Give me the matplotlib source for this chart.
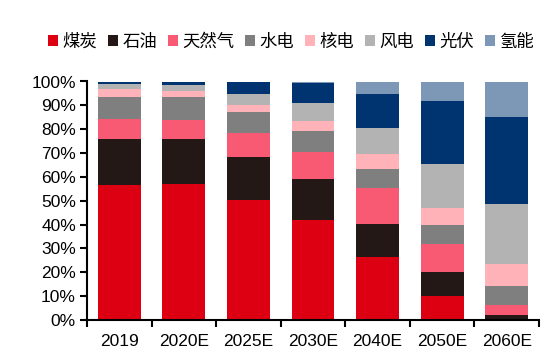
import matplotlib
matplotlib.use("Agg")

import matplotlib.pyplot as plt  # noqa: E402
import numpy as np  # noqa: E402

plt.rcParams["font.family"] = ["Liberation Sans", "DejaVu Sans"]

years = ["2019", "2020E", "2025E", "2030E", "2040E", "2050E", "2060E"]
sources = ["煤炭", "石油", "天然气", "水电", "核电", "风电", "光伏", "氢能"]

# share of primary energy, %
coal = [56.6, 57.1, 50.3, 42.0, 26.3, 10.1, 0.5]
oil = [19.3, 18.8, 18.0, 17.0, 14.0, 9.9, 1.5]
gas = [8.5, 8.0, 10.0, 11.5, 14.9, 12.0, 4.3]
hydro = [9.0, 9.5, 8.8, 8.7, 8.0, 8.0, 8.0]
nuclear = [3.3, 2.8, 3.0, 4.3, 6.5, 7.1, 9.2]
wind = [2.1, 2.4, 4.7, 7.4, 10.7, 18.1, 25.2]
solar = [1.1, 1.4, 4.8, 8.4, 14.3, 26.8, 36.3]
hydrogen = [0.1, 0.0, 0.4, 0.7, 5.3, 8.0, 15.0]

series = [coal, oil, gas, hydro, nuclear, wind, solar, hydrogen]
colors = ["#dc0012", "#231815", "#f75a72", "#7f7f7f",
          "#ffb2b8", "#b3b3b3", "#003471", "#7d97b6"]

fig = plt.figure(figsize=(5.44, 3.62), dpi=100)
ax = fig.add_axes([87 / 544, 42 / 362, 452 / 544, 238.5 / 362])

x = np.arange(len(years))
bottom = np.zeros(len(years))
for name, vals, c in zip(sources, series, colors):
    vals = np.array(vals)
    ax.bar(x, vals, width=0.665, bottom=bottom, color=c, label=name,
           linewidth=0)
    bottom += vals

ax.set_xlim(-0.5, len(years) - 0.5)
ax.set_ylim(0, 100)
ax.set_yticks(np.arange(0, 101, 10))
ax.set_yticklabels([f"{v}%" for v in range(0, 101, 10)])
ax.set_xticks(x)
ax.set_xticklabels(years)
ax.set_xticks(np.arange(-0.5, len(years)), minor=True)
ax.tick_params(axis="x", which="major", length=0, pad=10, labelsize=12.5)
ax.tick_params(axis="x", which="minor", length=5, width=1.5, direction="out")
ax.tick_params(axis="y", length=5, width=1.5, labelsize=12.5, pad=3)

for side in ("top", "right"):
    ax.spines[side].set_visible(False)
for side in ("left", "bottom"):
    ax.spines[side].set_linewidth(1.5)
    ax.spines[side].set_color("black")

leg = fig.legend(loc="center", bbox_to_anchor=(0.535, 0.885), ncol=8,
                 frameon=False, handlelength=0.6, handleheight=0.6,
                 handletextpad=0.25, columnspacing=0.6,
                 prop={"family": ["Noto Sans CJK SC", "DejaVu Sans"],
                       "size": 12.5})

fig.savefig("out.png", dpi=100)
